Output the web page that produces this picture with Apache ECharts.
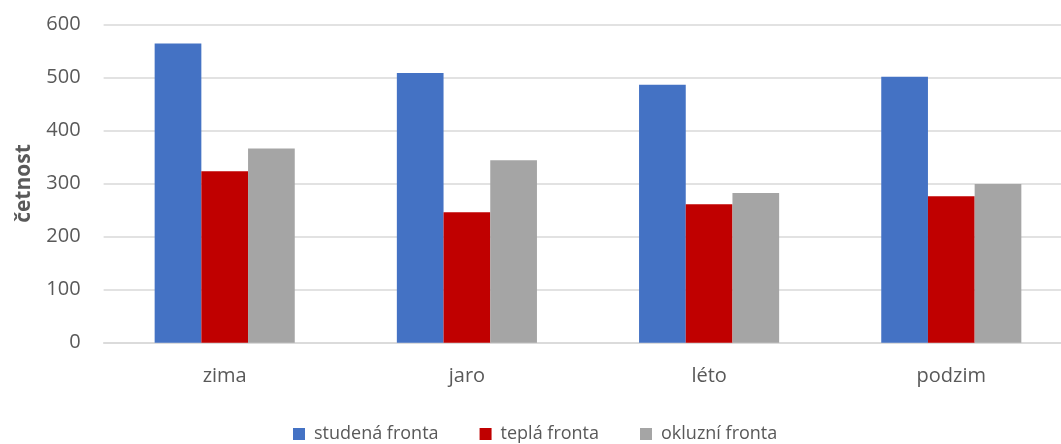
<!DOCTYPE html>
<html>
<head>
<meta charset="utf-8">
<script src="https://cdn.jsdelivr.net/npm/echarts@6/dist/echarts.min.js"></script>
<style>
  html, body { margin: 0; padding: 0; background: #fff; overflow: hidden; }
  /* the plot area runs slightly past the right edge of the window */
  #chart { width: 1073px; height: 444px; }
</style>
</head>
<body>
<div id="chart"></div>
<script>
// Seasonal counts of atmospheric fronts
const seasons = ['zima', 'jaro', 'léto', 'podzim'];
const seriesNames = ['studená fronta', 'teplá fronta', 'okluzní fronta'];
const coldFront = [564, 508, 486, 501];
const warmFront = [323, 246, 261, 276];
const occludedFront = [366, 344, 282, 299];
const colors = ['#4472C4', '#C00000', '#A5A5A5'];

const textColor = '#595959';
const fontFamily = '"Open Sans", "Noto Sans", sans-serif';
const values = [coldFront, warmFront, occludedFront];

const chart = echarts.init(document.getElementById('chart'), null, { renderer: 'canvas' });
chart.setOption({
  animation: false,
  textStyle: { fontFamily: fontFamily },
  color: colors,
  grid: { left: 103.6, top: 24.3, right: 0.6, bottom: 101.3, containLabel: false },
  legend: {
    data: seriesNames,
    left: 293,
    top: 425,
    padding: 0,
    itemWidth: 12,
    itemHeight: 12,
    itemGap: 41,
    icon: 'rect',
    textStyle: { color: textColor, fontSize: 18, fontFamily: fontFamily, padding: [0, 0, 0, 4] }
  },
  xAxis: {
    type: 'category',
    data: seasons,
    axisLine: { show: true, lineStyle: { color: '#D9D9D9', width: 1.5 } },
    axisTick: { show: false },
    axisLabel: { color: textColor, fontSize: 20, margin: 24, fontFamily: fontFamily }
  },
  yAxis: {
    type: 'value',
    min: 0,
    max: 600,
    interval: 100,
    name: 'četnost',
    nameLocation: 'middle',
    nameGap: 69,
    nameTextStyle: { color: textColor, fontSize: 21, fontWeight: 'bold', fontFamily: fontFamily },
    axisLine: { show: false },
    axisTick: { show: false },
    axisLabel: { color: textColor, fontSize: 20, margin: 23, fontFamily: fontFamily },
    splitLine: { lineStyle: { color: '#D9D9D9', width: 1.5 } }
  },
  series: seriesNames.map((name, i) => ({
    name: name,
    type: 'bar',
    data: values[i],
    barWidth: 46.7,
    barGap: '0%',
    itemStyle: { color: colors[i] }
  }))
});
</script>
</body>
</html>
